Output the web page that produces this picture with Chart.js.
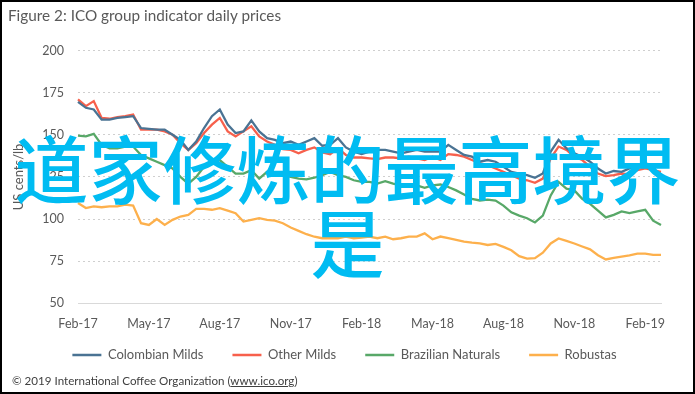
<!DOCTYPE html>
<html>
<head>
<meta charset="utf-8">
<script src="https://cdn.jsdelivr.net/npm/chart.js@4.4.1/dist/chart.umd.min.js"></script>
<style>
  html, body { margin: 0; padding: 0; background: #fff; }
  #wrap { position: relative; width: 695px; height: 394px; overflow: hidden; background: #fff; }
  #chart { position: absolute; left: 0; top: 0; }
  #frame { position: absolute; left: 0; top: 0; width: 695px; height: 394px; box-sizing: border-box; border: 2px solid #000; pointer-events: none; }
  #title { position: absolute; left: 8px; top: 5px; font: 15.3px Lato, sans-serif; color: #595959; line-height: 20px; }
  #source { position: absolute; left: 12px; top: 374px; font: 11.6px Lato, sans-serif; color: #404040; line-height: 14px; }
  #source span { text-decoration: underline; }
  #overlay { position: absolute; left: 0; top: 129px; width: 695px; text-align: center; font-family: "Noto Sans CJK SC", sans-serif; font-weight: 500; font-size: 74px; line-height: 74px; color: #00bcf2; }
</style>
</head>
<body>
<div id="wrap">
  <canvas id="chart" width="695" height="394"></canvas>
  <div id="title">Figure 2: ICO group indicator daily prices</div>
  <div id="source">© 2019 International Coffee Organization (<span>www.ico.org</span>)</div>
  <div id="overlay">道家修炼的最高境界是</div>
  <div id="frame"></div>
</div>
<script>
// roughly three readings per month, Feb 2017 to end of Feb 2019
const tickLabels = ['Feb-17', 'May-17', 'Aug-17', 'Nov-17', 'Feb-18', 'May-18', 'Aug-18', 'Nov-18', 'Feb-19'];
const categories = Array.from({ length: 75 }, (_, i) => i % 9 === 0 ? tickLabels[i / 9] : '');

const colombianMilds = [
  169.5, 166, 165, 159, 159, 160, 160.5, 161, 154, 153.5, 153, 153, 150, 147, 141,
  146, 154, 161, 165, 156, 151, 152, 158.5, 152, 148, 147, 145, 146, 144, 146,
  148, 143.5, 144, 148, 142.5, 140, 138.5, 140, 141, 141, 140, 139, 140, 141, 140,
  140, 140, 144, 141, 138, 137, 134, 135, 134, 131, 128, 127, 126, 124.5, 127,
  140, 147, 142, 139, 137, 134, 130, 127, 128.5, 128, 130, 131, 133, 132, 131
];
const otherMilds = [
  171, 167, 170, 160, 159.5, 160.5, 161, 162, 153, 153, 153, 152, 150, 145, 141,
  145, 151, 156, 160, 152, 149, 152, 155, 149, 146, 144, 141.5, 141, 139, 141,
  142.5, 139.5, 138.5, 142, 138, 136.5, 136.5, 136, 135.5, 136.5, 136.5, 136, 137, 136, 135,
  137, 135, 138.5, 138, 137, 135, 133, 132, 130, 128, 126, 124, 123, 121.5, 124,
  136, 143, 141, 137, 135, 131, 127, 125.5, 126, 127, 126.5, 129, 130, 129, 128
];
const brazilianNaturals = [
  149.5, 149, 150.5, 144, 142, 142, 143, 143, 138, 136, 134, 132, 130, 125, 121,
  125, 131, 133, 135, 131, 127, 127, 129, 124, 128, 127, 126, 125, 124, 123.5,
  124.5, 126, 128, 126, 125, 123, 122, 122, 121, 122.5, 121, 120, 120.5, 120, 118.5,
  120, 120.5, 119, 117, 114.5, 112, 111, 111.5, 111, 108, 104, 102, 100.5, 98, 102,
  114, 122, 118, 117, 112, 109, 105, 101, 102.5, 104.5, 103.5, 104.5, 105.5, 99, 96.5
];
const robustas = [
  109.5, 106.5, 107.5, 107, 107.5, 107.5, 108.5, 108, 97.5, 96.5, 100, 96.5, 99.5, 101.5, 102.5,
  106, 106, 105.5, 106.5, 105, 103.5, 98.5, 99.5, 100.5, 99.5, 99, 97.5, 95, 93, 91,
  89.5, 88.6, 88.6, 88.6, 89.6, 88.6, 89, 89.6, 88.6, 89.5, 88, 88.6, 89.6, 89.6, 91.5,
  88, 89.6, 88.6, 87.6, 86.6, 86, 85.6, 84.6, 85.3, 83.5, 81.5, 78, 76.5, 76.8, 80,
  85.5, 88.5, 87, 85.5, 83.7, 82, 78.5, 76, 77, 77.7, 78.5, 79.5, 79.5, 78.7, 78.7
];

const seriesNames = ['Colombian Milds', 'Other Milds', 'Brazilian Naturals', 'Robustas'];
const seriesColors = ['#4a7393', '#f7604c', '#58a868', '#fdb04c'];
const seriesData = [colombianMilds, otherMilds, brazilianNaturals, robustas];

const textColor = '#595959';
const tickFont = { family: 'Lato', size: 12.5 };

// keep the legend row where it sits in the original figure
const legendRow = {
  id: 'legendRow',
  afterLayout(chart) {
    const lg = chart.legend;
    const h = lg.bottom - lg.top;
    lg.top = 319.5;
    lg.bottom = lg.top + h;
    lg.left += 14;
    lg.right += 14;
  }
};

const ctx = document.getElementById('chart').getContext('2d');
new Chart(ctx, {
  type: 'line',
  data: {
    labels: categories,
    datasets: seriesNames.map((name, k) => ({
      label: name,
      data: seriesData[k],
      borderColor: seriesColors[k],
      backgroundColor: seriesColors[k],
      borderWidth: 2.3,
      pointRadius: 0,
      tension: 0
    }))
  },
  options: {
    responsive: false,
    animation: false,
    layout: { padding: { left: 0, right: 34, top: 50.5, bottom: 8.7 } },
    plugins: {
      tooltip: { enabled: false },
      legend: {
        position: 'bottom',
        labels: {
          usePointStyle: true,
          pointStyle: 'line',
          pointStyleWidth: 29,
          padding: 29,
          color: textColor,
          font: { family: 'Lato', size: 13 }
        }
      }
    },
    scales: {
      x: {
        grid: { display: false, drawTicks: false },
        border: { display: true, color: '#d9d9d9', width: 1 },
        ticks: {
          autoSkip: false,
          maxRotation: 0,
          padding: 13,
          color: textColor,
          font: tickFont,
          callback: (v, i) => categories[i]
        },
        afterFit: scale => { scale.height = 30; }
      },
      y: {
        min: 50,
        max: 200,
        ticks: { stepSize: 25, padding: 14, color: textColor, font: tickFont },
        grid: {
          drawTicks: false,
          lineWidth: 1,
          color: c => (c.tick && c.tick.value === 50) ? 'rgba(0,0,0,0)' : '#cfcfcf'
        },
        border: { display: false, dash: [2, 3] },
        title: {
          display: true,
          text: 'US cents/lb',
          color: textColor,
          font: { family: 'Lato', size: 13 },
          padding: { top: 11, bottom: 0 }
        },
        afterFit: scale => { scale.width = 78; }
      }
    }
  },
  plugins: [legendRow]
});
</script>
</body>
</html>
